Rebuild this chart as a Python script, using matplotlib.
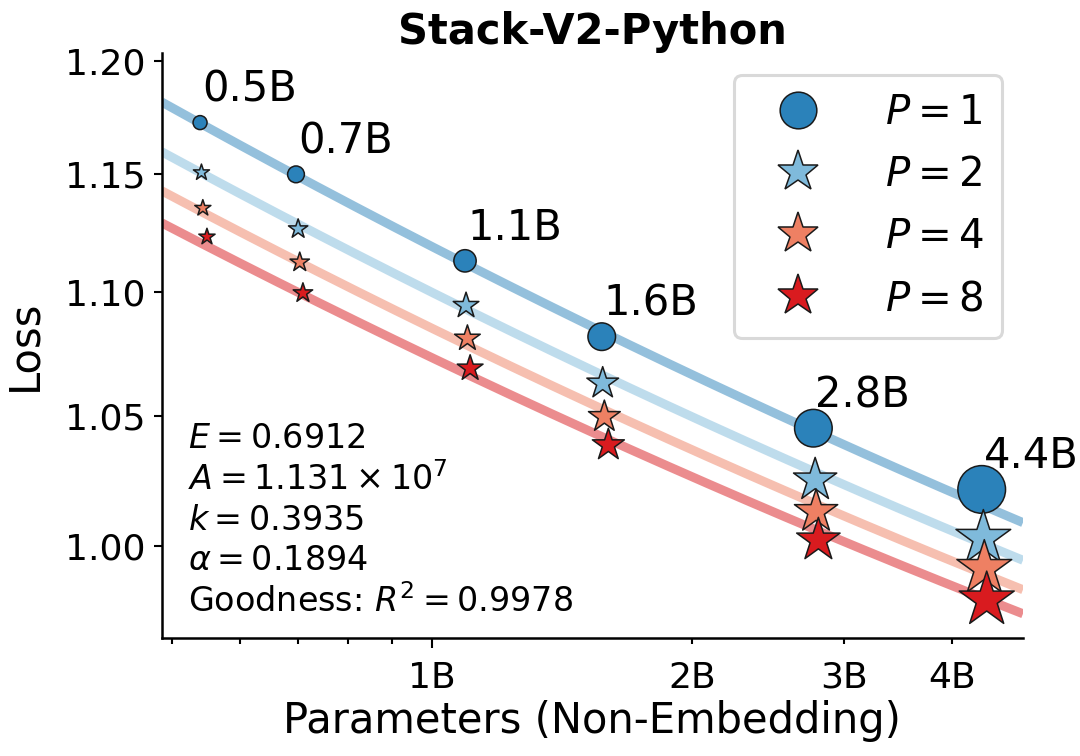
import numpy as np
import matplotlib
matplotlib.use("Agg")
import matplotlib.pyplot as plt
from matplotlib.lines import Line2D
from matplotlib.ticker import FixedLocator, FuncFormatter, NullLocator

# Datos (parámetros en miles de millones)
labels = ["0.5B", "0.7B", "1.1B", "1.6B", "2.8B", "4.4B"]
P_values = [1, 2, 4, 8]

N_p1 = [0.539, 0.696, 1.092, 1.572, 2.763, 4.327]
N_p2 = [0.541, 0.700, 1.095, 1.576, 2.776, 4.346]
N_p4 = [0.543, 0.703, 1.099, 1.583, 2.783, 4.357]
N_p8 = [0.549, 0.709, 1.107, 1.600, 2.800, 4.385]

loss_p1 = [1.1725, 1.1499, 1.1131, 1.0818, 1.0452, 1.0214]
loss_p2 = [1.1507, 1.1265, 1.0945, 1.0630, 1.0250, 1.0028]
loss_p4 = [1.1354, 1.1125, 1.0811, 1.0497, 1.0129, 0.9915]
loss_p8 = [1.1232, 1.0997, 1.0690, 1.0386, 1.0021, 0.9798]

# Parámetros del ajuste mostrados en la figura
E = 0.6912
A = 1.131e7
k = 0.3935
alpha = 0.1894
R2 = 0.9978

colors = ["#2b82ba", "#7fbadb", "#ee8063", "#d91b1f"]
markers = ["o", "*", "*", "*"]


def fit_loss(N, P):
    return (A / (N * (k * np.log(P) + 1))) ** alpha + E


def marker_area(n_billion, star):
    # área en pt^2 a 100 dpi
    s = (548.0 * np.asarray(n_billion) - 100.0) * 0.5184
    return s * 1.45 if star else s


if __name__ == "__main__":
    plt.rcParams["font.family"] = "DejaVu Sans"
    fig = plt.figure(figsize=(10.8, 7.56), dpi=100)
    ax = fig.add_axes([0.1497, 0.1561, 0.7975, 0.7738])

    N_all = [N_p1, N_p2, N_p4, N_p8]
    L_all = [loss_p1, loss_p2, loss_p4, loss_p8]

    xmin, xmax = 0.4866e9, 4.83e9
    xs = np.geomspace(xmin, xmax, 200)
    for P, c in zip(P_values, colors):
        ax.plot(xs, fit_loss(xs, P), color=c, alpha=0.5, lw=6.5,
                solid_capstyle="butt", zorder=1)

    for i, (P, c, m) in enumerate(zip(P_values, colors, markers)):
        N = np.array(N_all[i]) * 1e9
        ax.scatter(N, L_all[i], s=marker_area(N_all[i], m == "*"), c=c,
                   marker=m, edgecolors="#1a1a1a", linewidths=1.1, zorder=3 + i)

    for lab, n, l in zip(labels, N_p1, loss_p1):
        ax.annotate(lab, (n * 1e9, l), xytext=(2, 21), textcoords="offset pixels",
                    ha="left", va="baseline", fontsize=30, zorder=10)

    ax.set_xscale("log")
    ax.set_yscale("log")
    ax.set_xlim(xmin, xmax)
    ax.set_ylim(0.9659, 1.2036)

    ax.xaxis.set_major_locator(FixedLocator([1e9]))
    ax.xaxis.set_major_formatter(FuncFormatter(lambda v, p: "1B"))
    minor = [0.5e9, 0.6e9, 0.7e9, 0.8e9, 0.9e9, 2e9, 3e9, 4e9]
    ax.xaxis.set_minor_locator(FixedLocator(minor))
    ax.xaxis.set_minor_formatter(FuncFormatter(
        lambda v, p: f"{v / 1e9:.0f}B" if v >= 2e9 else ""))

    ax.yaxis.set_major_locator(FixedLocator([1.00, 1.05, 1.10, 1.15, 1.20]))
    ax.yaxis.set_major_formatter(FuncFormatter(lambda v, p: f"{v:.2f}"))
    ax.yaxis.set_minor_locator(NullLocator())

    ax.tick_params(axis="both", which="both", labelsize=26, width=1.5)
    ax.tick_params(axis="y", which="major", length=6, pad=6)
    ax.tick_params(axis="x", which="major", length=7.5, pad=9)
    ax.tick_params(axis="x", which="minor", length=4.3, pad=12.2)
    for side in ["top", "right"]:
        ax.spines[side].set_visible(False)
    for side in ["left", "bottom"]:
        ax.spines[side].set_linewidth(1.8)

    ax.set_xlabel("Parameters (Non-Embedding)", fontsize=30, labelpad=4)
    ax.set_ylabel("Loss", fontsize=30, labelpad=14)
    ax.set_title("Stack-V2-Python", fontsize=30, fontweight="bold", pad=6)

    fit_text = (f"$E={E}$\n$A=1.131\\times10^{{7}}$\n$k={k}$\n"
                f"$\\alpha={alpha}$\nGoodness: $R^2={R2}$")
    ax.text(0.031, 0.045, fit_text, transform=ax.transAxes, fontsize=24,
            ha="left", va="baseline", linespacing=1.26)

    handles = []
    for P, c, m in zip(P_values, colors, markers):
        ms = 26.4 if m == "o" else 31
        handles.append(Line2D([], [], ls="", marker=m, markersize=ms,
                              markerfacecolor=c, markeredgecolor="#1a1a1a",
                              markeredgewidth=1.1, label=f"$P={P}$"))
    leg = ax.legend(handles=handles, loc="upper right", fontsize=29,
                    bbox_to_anchor=(0.9757, 0.9624), borderaxespad=0,
                    handlelength=2.3, handletextpad=1.0, labelspacing=0.55,
                    borderpad=0.45, frameon=True, fancybox=True,
                    framealpha=1, edgecolor="0.85")
    leg.get_frame().set_linewidth(2.2)

    fig.savefig("out.png", dpi=100)
